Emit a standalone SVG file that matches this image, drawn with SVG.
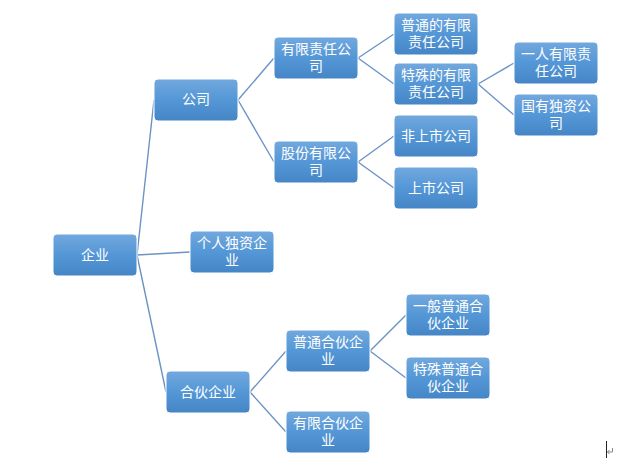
<svg xmlns="http://www.w3.org/2000/svg" width="633" height="473" viewBox="0 0 633 473">
<defs>
<linearGradient id="g" x1="0" y1="0" x2="0" y2="1">
<stop offset="0" stop-color="#72a8de"/>
<stop offset="0.5" stop-color="#5497d6"/>
<stop offset="1" stop-color="#4585c6"/>
</linearGradient>
<style>
.b{fill:url(#g);stroke:#ffffff;stroke-width:1}
.t{fill:#ffffff;font-family:"Liberation Sans","Noto Sans CJK SC",sans-serif;font-size:14px;text-anchor:middle}
.c{stroke:#6b93c6;stroke-width:1.4;fill:none}
</style>
</defs>
<rect width="633" height="473" fill="#ffffff"/>
<g id="connectors">
<line class="c" x1="137" y1="255" x2="154" y2="100"/>
<line class="c" x1="137" y1="255" x2="190" y2="252"/>
<line class="c" x1="137" y1="255" x2="166" y2="392"/>
<line class="c" x1="238" y1="100" x2="274" y2="58"/>
<line class="c" x1="238" y1="100" x2="274" y2="162"/>
<line class="c" x1="358" y1="58" x2="394" y2="34"/>
<line class="c" x1="358" y1="58" x2="394" y2="84"/>
<line class="c" x1="478" y1="84" x2="514" y2="63"/>
<line class="c" x1="478" y1="84" x2="514" y2="115"/>
<line class="c" x1="358" y1="162" x2="394" y2="136"/>
<line class="c" x1="358" y1="162" x2="394" y2="188"/>
<line class="c" x1="250" y1="392" x2="286" y2="351"/>
<line class="c" x1="250" y1="392" x2="286" y2="432"/>
<line class="c" x1="370" y1="351" x2="406" y2="315"/>
<line class="c" x1="370" y1="351" x2="406" y2="378"/>
</g>
<g id="n-qiye"><rect class="b" x="53" y="234" width="84" height="42" rx="4"/><text class="t" x="95" y="260">企业</text></g>
<g id="n-gongsi"><rect class="b" x="154" y="79" width="84" height="42" rx="4"/><text class="t" x="196" y="104">公司</text></g>
<g id="n-geren"><rect class="b" x="190" y="231" width="84" height="42" rx="4"/><text class="t" x="232" y="248">个人独资企<tspan x="232" dy="17">业</tspan></text></g>
<g id="n-hehuo"><rect class="b" x="166" y="371" width="84" height="42" rx="4"/><text class="t" x="208" y="397">合伙企业</text></g>
<g id="n-youxian"><rect class="b" x="274" y="37" width="84" height="42" rx="4"/><text class="t" x="316" y="54">有限责任公<tspan x="316" dy="17">司</tspan></text></g>
<g id="n-gufen"><rect class="b" x="274" y="141" width="84" height="42" rx="4"/><text class="t" x="316" y="158">股份有限公<tspan x="316" dy="17">司</tspan></text></g>
<g id="n-putongyx"><rect class="b" x="394" y="13" width="84" height="42" rx="4"/><text class="t" x="436" y="30">普通的有限<tspan x="436" dy="17">责任公司</tspan></text></g>
<g id="n-teshuyx"><rect class="b" x="394" y="63" width="84" height="42" rx="4"/><text class="t" x="436" y="80">特殊的有限<tspan x="436" dy="17">责任公司</tspan></text></g>
<g id="n-yiren"><rect class="b" x="514" y="42" width="84" height="42" rx="4"/><text class="t" x="556" y="59">一人有限责<tspan x="556" dy="17">任公司</tspan></text></g>
<g id="n-guoyou"><rect class="b" x="514" y="94" width="84" height="42" rx="4"/><text class="t" x="556" y="111">国有独资公<tspan x="556" dy="17">司</tspan></text></g>
<g id="n-feishangshi"><rect class="b" x="394" y="115" width="84" height="42" rx="4"/><text class="t" x="436" y="141">非上市公司</text></g>
<g id="n-shangshi"><rect class="b" x="394" y="167" width="84" height="42" rx="4"/><text class="t" x="436" y="193">上市公司</text></g>
<g id="n-putonghh"><rect class="b" x="286" y="330" width="84" height="42" rx="4"/><text class="t" x="328" y="347">普通合伙企<tspan x="328" dy="17">业</tspan></text></g>
<g id="n-youxianhh"><rect class="b" x="286" y="411" width="84" height="42" rx="4"/><text class="t" x="328" y="428">有限合伙企<tspan x="328" dy="17">业</tspan></text></g>
<g id="n-yiban"><rect class="b" x="406" y="294" width="84" height="42" rx="4"/><text class="t" x="448" y="311">一般普通合<tspan x="448" dy="17">伙企业</tspan></text></g>
<g id="n-teshuhh"><rect class="b" x="406" y="357" width="84" height="42" rx="4"/><text class="t" x="448" y="374">特殊普通合<tspan x="448" dy="17">伙企业</tspan></text></g>
<line x1="606.5" y1="441" x2="606.5" y2="458" stroke="#222222" stroke-width="1"/>
<path d="M612.5 448 V452 H607.5 M609.5 450 L607.5 452 L609.5 454" stroke="#888888" stroke-width="1" fill="none"/>
</svg>
